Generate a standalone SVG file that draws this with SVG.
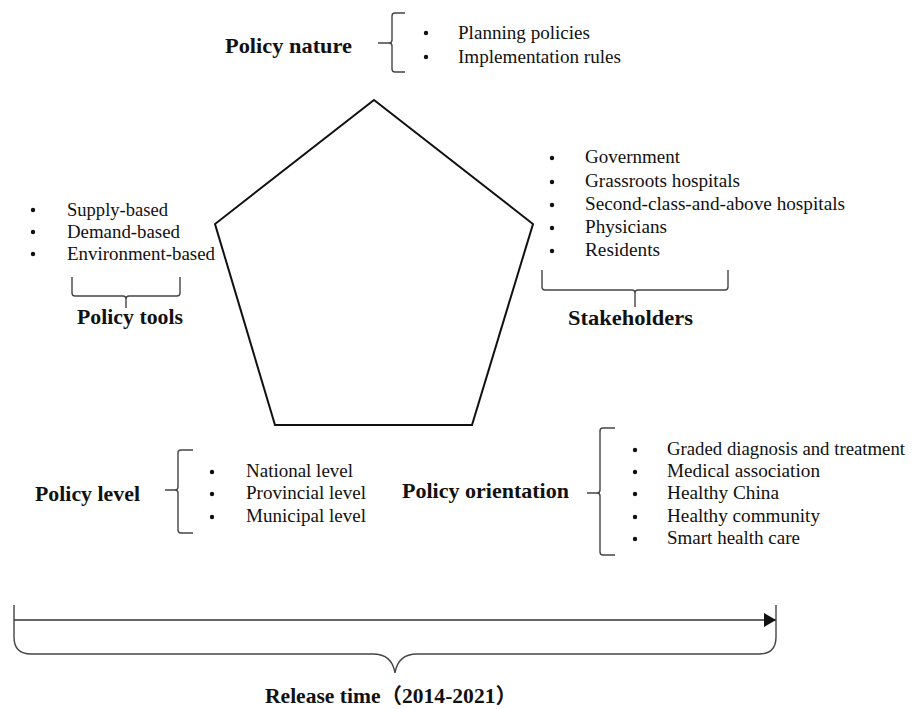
<svg xmlns="http://www.w3.org/2000/svg" width="915" height="709" viewBox="0 0 915 709">
<style>
.t{font-family:"Liberation Serif","Times New Roman",serif;font-size:18px;fill:#111}
.b{font-family:"Liberation Serif","Times New Roman","Noto Sans CJK SC",serif;font-size:21px;font-weight:bold;fill:#111}
.br{fill:none;stroke:#444;stroke-width:1.4}
.dot{fill:#111}
</style>
<defs>
<marker id="arr" markerWidth="12" markerHeight="14" refX="12" refY="7" orient="auto" markerUnits="userSpaceOnUse">
<path d="M0,0 L12,7 L0,14 Z" fill="#111"/>
</marker>
</defs>
<rect width="915" height="709" fill="#fff"/>
<g id="pentagon">
<polygon points="374,100 533,224 472,425 275,425 215,224" fill="none" stroke="#111" stroke-width="2"/>
</g>
<g id="policy-nature">
<text class="b" x="225" y="53" textLength="127" lengthAdjust="spacingAndGlyphs">Policy nature</text>
<path class="br" d="M405,13 L395,13 Q392,13 392,16 L392,40 Q392,43 389,43 L378,43 M389,43 Q392,43 392,46 L392,69 Q392,72 395,72 L405,72"/>
<circle class="dot" cx="426" cy="33" r="2.2"/>
<circle class="dot" cx="426" cy="57" r="2.2"/>
<text class="t" x="458" y="39" textLength="132" lengthAdjust="spacingAndGlyphs">Planning policies</text>
<text class="t" x="458" y="63" textLength="163" lengthAdjust="spacingAndGlyphs">Implementation rules</text>
</g>
<g id="policy-tools">
<circle class="dot" cx="33" cy="210" r="2.2"/>
<circle class="dot" cx="33" cy="232" r="2.2"/>
<circle class="dot" cx="33" cy="254" r="2.2"/>
<text class="t" x="67" y="216" textLength="101" lengthAdjust="spacingAndGlyphs">Supply-based</text>
<text class="t" x="67" y="238" textLength="113" lengthAdjust="spacingAndGlyphs">Demand-based</text>
<text class="t" x="67" y="260" textLength="148" lengthAdjust="spacingAndGlyphs">Environment-based</text>
<path class="br" d="M72,277 L72,293 Q72,296 75,296 L123,296 Q126,296 126,299 L126,308 M126,299 Q126,296 129,296 L177,296 Q180,296 180,293 L180,277"/>
<text class="b" x="77" y="324" textLength="106" lengthAdjust="spacingAndGlyphs">Policy tools</text>
</g>
<g id="stakeholders">
<circle class="dot" cx="552" cy="158" r="2.2"/>
<circle class="dot" cx="552" cy="182" r="2.2"/>
<circle class="dot" cx="552" cy="205" r="2.2"/>
<circle class="dot" cx="552" cy="228" r="2.2"/>
<circle class="dot" cx="552" cy="251" r="2.2"/>
<text class="t" x="585" y="163" textLength="95" lengthAdjust="spacingAndGlyphs">Government</text>
<text class="t" x="585" y="187" textLength="155" lengthAdjust="spacingAndGlyphs">Grassroots hospitals</text>
<text class="t" x="585" y="210" textLength="260" lengthAdjust="spacingAndGlyphs">Second-class-and-above hospitals</text>
<text class="t" x="585" y="233" textLength="82" lengthAdjust="spacingAndGlyphs">Physicians</text>
<text class="t" x="585" y="256" textLength="75" lengthAdjust="spacingAndGlyphs">Residents</text>
<path class="br" d="M542,270 L542,287 Q542,290 545,290 L632,290 Q635,290 635,293 L635,307 M635,293 Q635,290 638,290 L725,290 Q728,290 728,287 L728,270"/>
<text class="b" x="568" y="325" textLength="125" lengthAdjust="spacingAndGlyphs">Stakeholders</text>
</g>
<g id="policy-level">
<text class="b" x="35" y="501" textLength="105" lengthAdjust="spacingAndGlyphs">Policy level</text>
<path class="br" d="M193,450 L181,450 Q178,450 178,453 L178,487 Q178,490 175,490 L165,490 M175,490 Q178,490 178,493 L178,530 Q178,533 181,533 L193,533"/>
<circle class="dot" cx="212" cy="472" r="2.2"/>
<circle class="dot" cx="212" cy="494" r="2.2"/>
<circle class="dot" cx="212" cy="517" r="2.2"/>
<text class="t" x="246" y="477" textLength="107" lengthAdjust="spacingAndGlyphs">National level</text>
<text class="t" x="246" y="499" textLength="120" lengthAdjust="spacingAndGlyphs">Provincial level</text>
<text class="t" x="246" y="522" textLength="120" lengthAdjust="spacingAndGlyphs">Municipal level</text>
</g>
<g id="policy-orientation">
<text class="b" x="402" y="498" textLength="167" lengthAdjust="spacingAndGlyphs">Policy orientation</text>
<path class="br" d="M615,428 L603,428 Q600,428 600,431 L600,490 Q600,493 597,493 L587,493 M597,493 Q600,493 600,496 L600,552 Q600,555 603,555 L615,555"/>
<circle class="dot" cx="635" cy="450" r="2.2"/>
<circle class="dot" cx="635" cy="472" r="2.2"/>
<circle class="dot" cx="635" cy="494" r="2.2"/>
<circle class="dot" cx="635" cy="517" r="2.2"/>
<circle class="dot" cx="635" cy="539" r="2.2"/>
<text class="t" x="667" y="455" textLength="238" lengthAdjust="spacingAndGlyphs">Graded diagnosis and treatment</text>
<text class="t" x="667" y="477" textLength="153" lengthAdjust="spacingAndGlyphs">Medical association</text>
<text class="t" x="667" y="499" textLength="112" lengthAdjust="spacingAndGlyphs">Healthy China</text>
<text class="t" x="667" y="522" textLength="153" lengthAdjust="spacingAndGlyphs">Healthy community</text>
<text class="t" x="667" y="544" textLength="133" lengthAdjust="spacingAndGlyphs">Smart health care</text>
</g>
<g id="connectors">
<path d="M14,620 L776,620" fill="none" stroke="#333" stroke-width="1.4" marker-end="url(#arr)"/>
</g>
<g id="release-time">
<path class="br" d="M14,605 L14,637 Q14,654 31,654 L373,654 Q392,654 395,673 Q398,654 417,654 L759,654 Q776,654 776,637 L776,605"/>
<text class="b" x="265" y="703" textLength="252" lengthAdjust="spacingAndGlyphs">Release time（2014-2021）</text>
</g>
</svg>
